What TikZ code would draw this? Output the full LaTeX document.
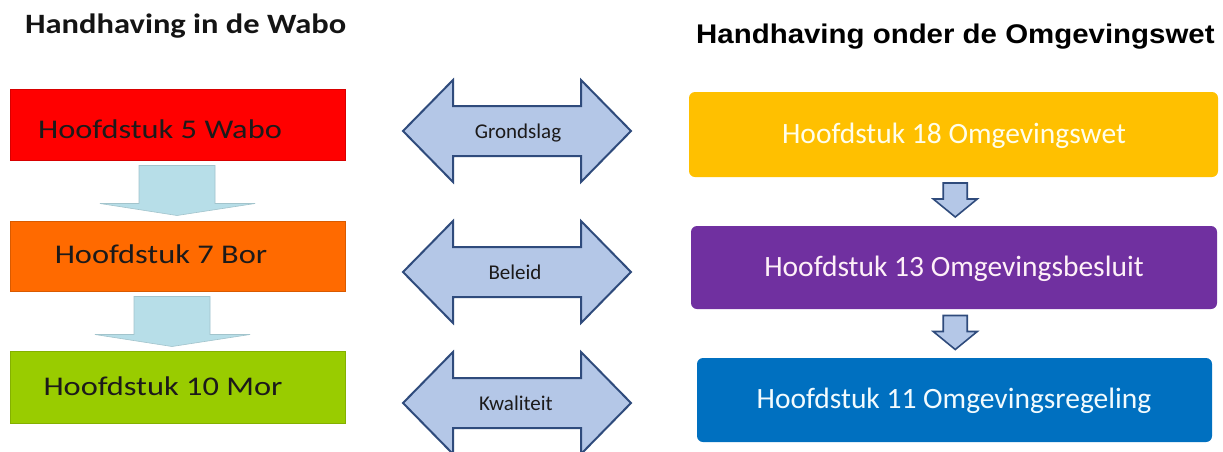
\documentclass[tikz,border=0pt]{standalone}
\usepackage{fontspec}
\setmainfont{Carlito}
\newfontfamily\boxfontL[FakeStretch=1.2]{Carlito}
\newfontfamily\titlefontL[FakeStretch=1.16]{Carlito}
\newfontfamily\titlefontR[FakeStretch=1.09]{Liberation Sans}
\usetikzlibrary{calc}
\definecolor{wred}{HTML}{FF0000}
\definecolor{wredd}{HTML}{D80000}
\definecolor{worange}{HTML}{FF6A00}
\definecolor{worangedd}{HTML}{D95A00}
\definecolor{wgreen}{HTML}{99CC00}
\definecolor{wgreendd}{HTML}{84B000}
\definecolor{lcyan}{HTML}{B7DEE8}
\definecolor{lcyandd}{HTML}{A2C4CC}
\definecolor{oyellow}{HTML}{FFC000}
\definecolor{opurple}{HTML}{7030A0}
\definecolor{oblue}{HTML}{0070C0}
\definecolor{afill}{HTML}{B4C7E7}
\definecolor{aline}{HTML}{2F4B7C}
\definecolor{ltxt}{HTML}{1C1A1A}
\tikzset{
  lbox/.style={rectangle, inner sep=0pt, line width=0.8pt},
  rbox/.style={rectangle, rounded corners=6pt, inner sep=0pt},
  ltext/.style={anchor=base, inner sep=0pt, text=ltxt, font=\boxfontL\fontsize{27}{30}\selectfont},
  rtext/.style={anchor=base, inner sep=0pt, text=white, font=\fontsize{29.5}{32}\selectfont},
  atext/.style={anchor=base, inner sep=0pt, text=ltxt, font=\fontsize{21}{24}\selectfont},
  dblarrow/.style={fill=afill, draw=aline, line width=2pt, line join=miter},
  downarrowL/.style={fill=lcyan, draw=lcyandd, line width=0.6pt},
  downarrowR/.style={fill=afill, draw=aline, line width=1.6pt, line join=miter}
}
\begin{document}
\begin{tikzpicture}[x=1pt,y=-1pt]
\useasboundingbox[fill=white] (0,0) rectangle (1223,451);

% titles
\node[anchor=base west, inner sep=0pt, text=black!92, font=\titlefontL\bfseries\fontsize{28}{30}\selectfont] (tl) at (25,33) {Handhaving in de Wabo};
\node[anchor=base west, inner sep=0pt, text=black, font=\titlefontR\bfseries\fontsize{27}{30}\selectfont] (tr) at (696,43) {Handhaving onder de Omgevingswet};

% left boxes
\node[lbox, fill=wred, draw=wredd, minimum width=335pt, minimum height=71pt] (r1) at (177.5,124.5) {};
\node[lbox, fill=worange, draw=worangedd, minimum width=335pt, minimum height=70pt] (r2) at (177.5,256) {};
\node[lbox, fill=wgreen, draw=wgreendd, minimum width=335pt, minimum height=72pt] (r3) at (177.5,387) {};
\node[ltext] (t1) at (160,138) {Hoofdstuk 5 Wabo};
\node[ltext] (t2) at (161,263) {Hoofdstuk 7 Bor};
\node[ltext] (t3) at (163,395) {Hoofdstuk 10 Mor};

% left down arrows
\coordinate (a1) at ($(r1.south)!0.5!(r2.north)+(-0.5,0)$);
\coordinate (a2) at ($(r2.south)!0.5!(r3.north)+(-5.5,0.5)$);
\foreach \c in {a1,a2}{
  \draw[downarrowL, shift={(\c)}] (-38,-25) -- (38,-25) -- (38,13) -- (78,13) -- (0,25) -- (-77,13) -- (-38,13) -- cycle;
}

% right boxes
\node[rbox, fill=oyellow, minimum width=529pt, minimum height=85pt] (b1) at (953.5,134.5) {};
\node[rbox, fill=opurple, minimum width=526pt, minimum height=83pt] (b2) at (954,267.5) {};
\node[rbox, fill=oblue, minimum width=515pt, minimum height=84pt] (b3) at (954.5,400) {};
\node[rtext, text=white!92!yellow] (u1) at (954,143) {Hoofdstuk 18 Omgevingswet};
\node[rtext, text=white!94!magenta] (u2) at (954,276) {Hoofdstuk 13 Omgevingsbesluit};
\node[rtext, text=white!95!cyan] (u3) at (954,408.5) {Hoofdstuk 11 Omgevingsregeling};

% right down arrows
\coordinate (d1) at ($(b1.south)!0.5!(b2.north)+(1.5,-1.5)$);
\coordinate (d2) at ($(b2.south)!0.5!(b3.north)+(1,-1)$);
\foreach \c in {d1,d2}{
  \draw[downarrowR, shift={(\c)}] (-12,-17) -- (12,-17) -- (12,-1) -- (22,-1) -- (0,17) -- (-22,-1) -- (-12,-1) -- cycle;
}

% double arrows with labels
\coordinate (m1) at (517,131);
\coordinate (m2) at (517,272);
\coordinate (m3) at (517,403);
\foreach \c in {m1,m2,m3}{
  \draw[dblarrow, shift={(\c)}] (-114,0) -- (-64,-51) -- (-64,-25) -- (64,-25) -- (64,-51) -- (114,0) -- (64,51) -- (64,25) -- (-64,25) -- (-64,51) -- cycle;
}
\node[atext] (g1) at ($(m1)+(1,7)$) {Grondslag};
\node[atext] (g2) at ($(m2)+(-2,7)$) {Beleid};
\node[atext] (g3) at ($(m3)+(-1,7)$) {Kwaliteit};
\end{tikzpicture}
\end{document}
